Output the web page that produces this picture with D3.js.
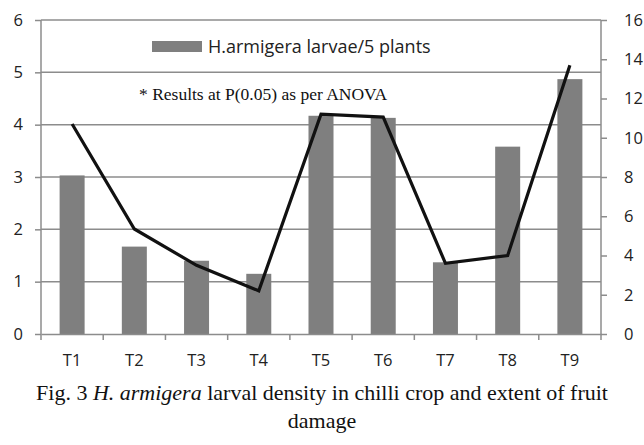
<!DOCTYPE html>
<html>
<head>
<meta charset="utf-8">
<script src="https://cdn.jsdelivr.net/npm/d3@7"></script>
<style>
  body { margin: 0; background: #fff; }
  svg { display: block; }
</style>
</head>
<body>
<div id="chart"></div>
<script>
// values
const treatments = ['T1', 'T2', 'T3', 'T4', 'T5', 'T6', 'T7', 'T8', 'T9']
const larvae = [3.03, 1.67, 1.4, 1.15, 4.17, 4.13, 1.37, 3.58, 4.87]
const damage = [10.7, 5.35, 3.5, 2.2, 11.2, 11.05, 3.6, 4.0, 13.7]
const leftTicks = [0, 1, 2, 3, 4, 5, 6]
const rightTicks = [0, 2, 4, 6, 8, 10, 12, 14, 16]

const W = 644, H = 445
const margin = { top: 20, right: 43, bottom: 111, left: 41 }
const width = W - margin.left - margin.right
const height = H - margin.top - margin.bottom

const svg = d3.select('#chart').append('svg')
  .attr('width', W)
  .attr('height', H)

const g = svg.append('g')
  .attr('transform', 'translate(' + margin.left + ',' + margin.top + ')')

const x = d3.scaleBand().domain(treatments).range([0, width])
const yL = d3.scaleLinear().domain([0, 6]).range([height, 0])
const yR = d3.scaleLinear().domain([0, 16]).range([height, 0])

const axisColor = '#8c8c8c'
const font = '"Open Sans", "Noto Sans", sans-serif'
const serif = '"Liberation Serif", "Times New Roman", serif'

// gridlines on left axis ticks
g.append('g')
  .selectAll('line')
  .data(leftTicks.slice(1))
  .enter().append('line')
  .attr('x1', 0).attr('x2', width)
  .attr('y1', d => yL(d)).attr('y2', d => yL(d))
  .style('stroke', axisColor)
  .style('stroke-width', 1.5)

// bars
g.append('g')
  .selectAll('rect')
  .data(larvae)
  .enter().append('rect')
  .attr('x', (d, i) => x(treatments[i]) + x.bandwidth() / 2 - 12.5)
  .attr('width', 25)
  .attr('y', d => yL(d))
  .attr('height', d => height - yL(d))
  .style('fill', '#7f7f7f')

// axes
const leftAxis = g.append('g')
  .call(d3.axisLeft(yL).tickValues(leftTicks).tickFormat(d3.format('d')).tickSize(6).tickPadding(12))
const rightAxis = g.append('g')
  .attr('transform', 'translate(' + width + ',0)')
  .call(d3.axisRight(yR).tickValues(rightTicks).tickSize(6).tickPadding(17))
const bottomAxis = g.append('g')
  .attr('transform', 'translate(0,' + height + ')')
  .call(d3.axisBottom(x).tickSize(0).tickPadding(20))

// x tick marks at category boundaries
g.append('g')
  .selectAll('line')
  .data(d3.range(treatments.length + 1))
  .enter().append('line')
  .attr('x1', i => i * x.step()).attr('x2', i => i * x.step())
  .attr('y1', height).attr('y2', height + 6)
  .style('stroke', axisColor)
  .style('stroke-width', 1.5)

;[leftAxis, rightAxis, bottomAxis].forEach(a => {
  a.selectAll('path, line').style('stroke', axisColor).style('stroke-width', 1.5)
  a.selectAll('text').style('font-family', font).style('font-size', '16.5px').style('fill', '#222')
})
leftAxis.select('.domain').attr('d', 'M0,' + height + 'V0')
rightAxis.select('.domain').attr('d', 'M0,' + height + 'V0')

// damage line
const line = d3.line()
  .x((d, i) => x(treatments[i]) + x.bandwidth() / 2)
  .y(d => yR(d))

g.append('path')
  .datum(damage)
  .attr('d', line)
  .style('fill', 'none')
  .style('stroke', '#111')
  .style('stroke-width', 3.2)
  .style('stroke-linejoin', 'miter')

// legend
g.append('rect')
  .attr('x', 111).attr('y', 21)
  .attr('width', 50).attr('height', 11)
  .style('fill', '#7f7f7f')
g.append('text')
  .attr('x', 167).attr('y', 33)
  .text('H.armigera larvae/5 plants')
  .style('font-family', font)
  .style('font-size', '18px')
  .style('fill', '#222')

g.append('text')
  .attr('x', 98).attr('y', 80)
  .text('* Results at P(0.05) as per ANOVA')
  .style('font-family', serif)
  .style('font-size', '17.5px')
  .style('fill', '#111')

// caption
const caption = svg.append('text')
  .attr('text-anchor', 'middle')
  .style('font-family', serif)
  .style('font-size', '22px')
  .style('fill', '#111')
const l1 = caption.append('tspan').attr('x', 322).attr('y', 400)
l1.append('tspan').text('Fig. 3 ')
l1.append('tspan').style('font-style', 'italic').text('H. armigera')
l1.append('tspan').text(' larval density in chilli crop and extent of fruit')
caption.append('tspan').attr('x', 322).attr('y', 428).text('damage')
</script>
</body>
</html>
